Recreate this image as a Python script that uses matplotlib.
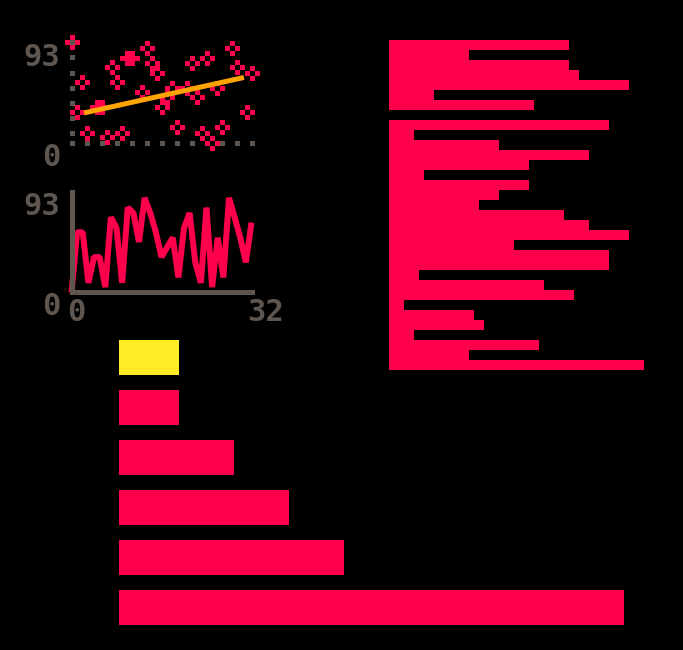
import matplotlib
matplotlib.use("Agg")
import matplotlib.pyplot as plt
import matplotlib.transforms as mtransforms
import numpy as np
from matplotlib.path import Path

# ── Palette (PICO-8 style) ────────────────────────────────────────────────────
BG = "#000000"
RED = "#FF004D"
YELLOW = "#FFEC27"
ORANGE = "#FFA300"
GREY = "#5F574F"

W, H = 683, 650
PX = 5  # one "pixel" of the pixel-art grid, in screen pixels

# ── Data ─────────────────────────────────────────────────────────────────────
scatter_x = [0, 1, 2, 3, 5, 6, 7, 8, 9, 10, 11, 12, 14, 15, 16, 17,
             18, 19, 20, 21, 23, 24, 25, 26, 27, 28, 29, 30, 32, 33, 35, 36]
scatter_y = [93, 28, 56, 9, 33, 33, 5, 70, 56, 9, 79, 79, 47, 88, 74, 65,
             33, 42, 51, 14, 51, 74, 42, 9, 79, 0, 51, 14, 88, 70, 28, 65]
trend_x = [3, 34]
trend_y = [28, 60]

line_vals = [0, 56, 56, 9, 33, 33, 5, 70, 60, 9, 79, 74, 47, 88, 74, 56, 33,
             42, 51, 14, 60, 74, 28, 9, 79, 5, 51, 14, 88, 70, 51, 28, 65]

right_bars = [36, 16, 36, 38, 48, 9, 29, 0, 44, 5, 22, 40, 28, 7, 28, 22, 18,
              35, 40, 48, 25, 44, 44, 6, 31, 37, 3, 17, 19, 5, 30, 16, 51]

bottom_bars = [12, 12, 23, 34, 45, 101]
bottom_colors = [YELLOW, RED, RED, RED, RED, RED]

Y_MAX = 93


def place(fig, x0, y0, x1, y1):
    """Axes from screen pixel box (top-left origin)."""
    return fig.add_axes([x0 / W, 1 - y1 / H, (x1 - x0) / W, (y1 - y0) / H])


def px_pt(n):
    return n * PX * 72 / 100


# hollow plus marker: four pixel squares around an empty centre
verts, codes = [], []
for cx, cy in [(0, 1), (-1, 0), (1, 0), (0, -1)]:
    sq = [(cx - .5, cy - .5), (cx + .5, cy - .5), (cx + .5, cy + .5),
          (cx - .5, cy + .5), (cx - .5, cy - .5)]
    verts += sq
    codes += [Path.MOVETO, Path.LINETO, Path.LINETO, Path.LINETO, Path.CLOSEPOLY]
CROSS = Path(verts, codes)

FONT = dict(family="DejaVu Sans Mono", weight="bold", size=22, color=GREY)

fig = plt.figure(figsize=(W / 100, H / 100), dpi=100, facecolor=BG)

# ── Scatter with trend line ──────────────────────────────────────────────────
ax = place(fig, 71.5, 42.5, 251.5, 142.5)
ax.set_facecolor("none")
ax.set_xlim(0, 36)
ax.set_ylim(0, Y_MAX)
for s in ax.spines.values():
    s.set_visible(False)

# dotted axes
ydots = np.append(np.arange(Y_MAX, 0, -3 * Y_MAX / 20), 0)
xdots = np.arange(0, 37, 3)
ax.plot(np.zeros_like(ydots), ydots, "s", ms=px_pt(1), mew=0, color=GREY, clip_on=False)
ax.plot(xdots, np.zeros_like(xdots), "s", ms=px_pt(1), mew=0, color=GREY, clip_on=False)

ax.plot(scatter_x, scatter_y, linestyle="none", marker=CROSS, ms=px_pt(3), mew=0,
        color=RED, clip_on=False, zorder=3)
ax.plot(trend_x, trend_y, color=ORANGE, lw=px_pt(1), solid_capstyle="projecting",
        zorder=4)

ax.set_xticks([])
ax.set_yticks([0, Y_MAX])
ax.set_yticklabels(["0", "93"], va="top", **FONT)
ax.tick_params(axis="y", length=0, pad=8)

# ── Line chart ───────────────────────────────────────────────────────────────
ax = place(fig, 71.5, 192.5, 251.5, 292.5)
ax.set_facecolor("none")
ax.set_xlim(0, 32)
ax.set_ylim(0, Y_MAX)
ax.plot(np.arange(len(line_vals)), line_vals, color=RED, lw=px_pt(1.2),
        solid_joinstyle="bevel", solid_capstyle="butt", clip_on=False)
for side in ["top", "right"]:
    ax.spines[side].set_visible(False)
for side in ["left", "bottom"]:
    ax.spines[side].set_color(GREY)
    ax.spines[side].set_linewidth(px_pt(1))
    ax.spines[side].set_capstyle("projecting")
    ax.spines[side].set_zorder(5)
ax.set_xticks([0, 32])
ax.set_xticklabels(["0", "32"], ha="left", **FONT)
ax.set_yticks([0, Y_MAX])
ax.set_yticklabels(["0", "93"], va="top", **FONT)
ax.tick_params(axis="both", length=0)
ax.tick_params(axis="y", pad=8)
ax.tick_params(axis="x", pad=4)
shift = mtransforms.ScaledTranslation(-4 / 100, 0, fig.dpi_scale_trans)
for lbl in ax.get_xticklabels():
    lbl.set_transform(lbl.get_transform() + shift)

# ── Right horizontal bars ────────────────────────────────────────────────────
ax = place(fig, 389, 40, 644, 370)
ax.set_facecolor("none")
ax.barh(np.arange(len(right_bars)), right_bars, height=1.0, color=RED, linewidth=0)
ax.set_xlim(0, max(right_bars))
ax.set_ylim(len(right_bars) - 0.5, -0.5)
ax.axis("off")

# ── Bottom horizontal bars ───────────────────────────────────────────────────
ax = place(fig, 119, 340, 624, 625)
ax.set_facecolor("none")
ax.barh(np.arange(len(bottom_bars)), bottom_bars, height=0.7, color=bottom_colors,
        linewidth=0)
ax.set_xlim(0, max(bottom_bars))
ax.set_ylim(len(bottom_bars) - 0.65, -0.35)
ax.axis("off")

fig.savefig("out.png", dpi=100, facecolor=BG)
